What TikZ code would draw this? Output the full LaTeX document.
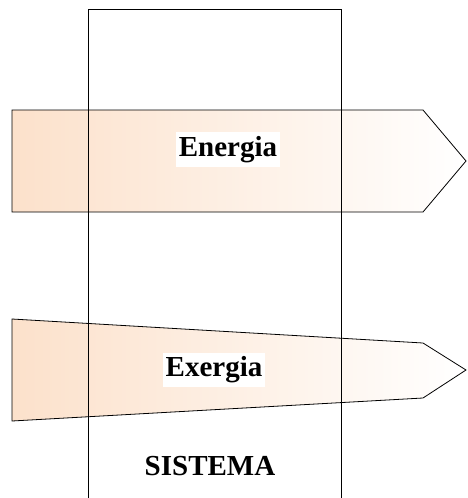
\documentclass[tikz,border=0pt]{standalone}
\usepackage{fontspec}
\setmainfont{Liberation Serif}
\definecolor{peach}{RGB}{252,225,203}

\begin{document}
\begin{tikzpicture}[x = 1pt, y = -1pt,
    flow/.style = {draw, line width = 0.8pt, line join = miter, left color = peach, right color = white},
    wall/.style = {draw, line width = 0.8pt},
    tag/.style = {fill = white, font = \fontsize{29}{32}\selectfont\bfseries, inner xsep = 3pt, inner ysep = 4pt}]
        \useasboundingbox (0,0) rectangle (467,498);
        % energy flow, constant width
        \draw [flow] (12,110) -- (423,110) -- (466,161) -- (423,212) -- (12,212) -- cycle;
        % exergy flow, getting narrower
        \draw [flow] (12,319) -- (423,343) -- (466,370) -- (423,398) -- (12,421) -- cycle;
        % system boundary
        \draw [wall] (88,499) -- (88,9) -- (341,9) -- (341,499);
        \node [tag] (energia) at (228,149.5) {Energia};
        \node [tag] (exergia) at (214,370) {Exergia};
        \node [font = \fontsize{29}{32}\selectfont\bfseries] (sistema) at (210,466) {SISTEMA};
      \end{tikzpicture}
\end{document}
